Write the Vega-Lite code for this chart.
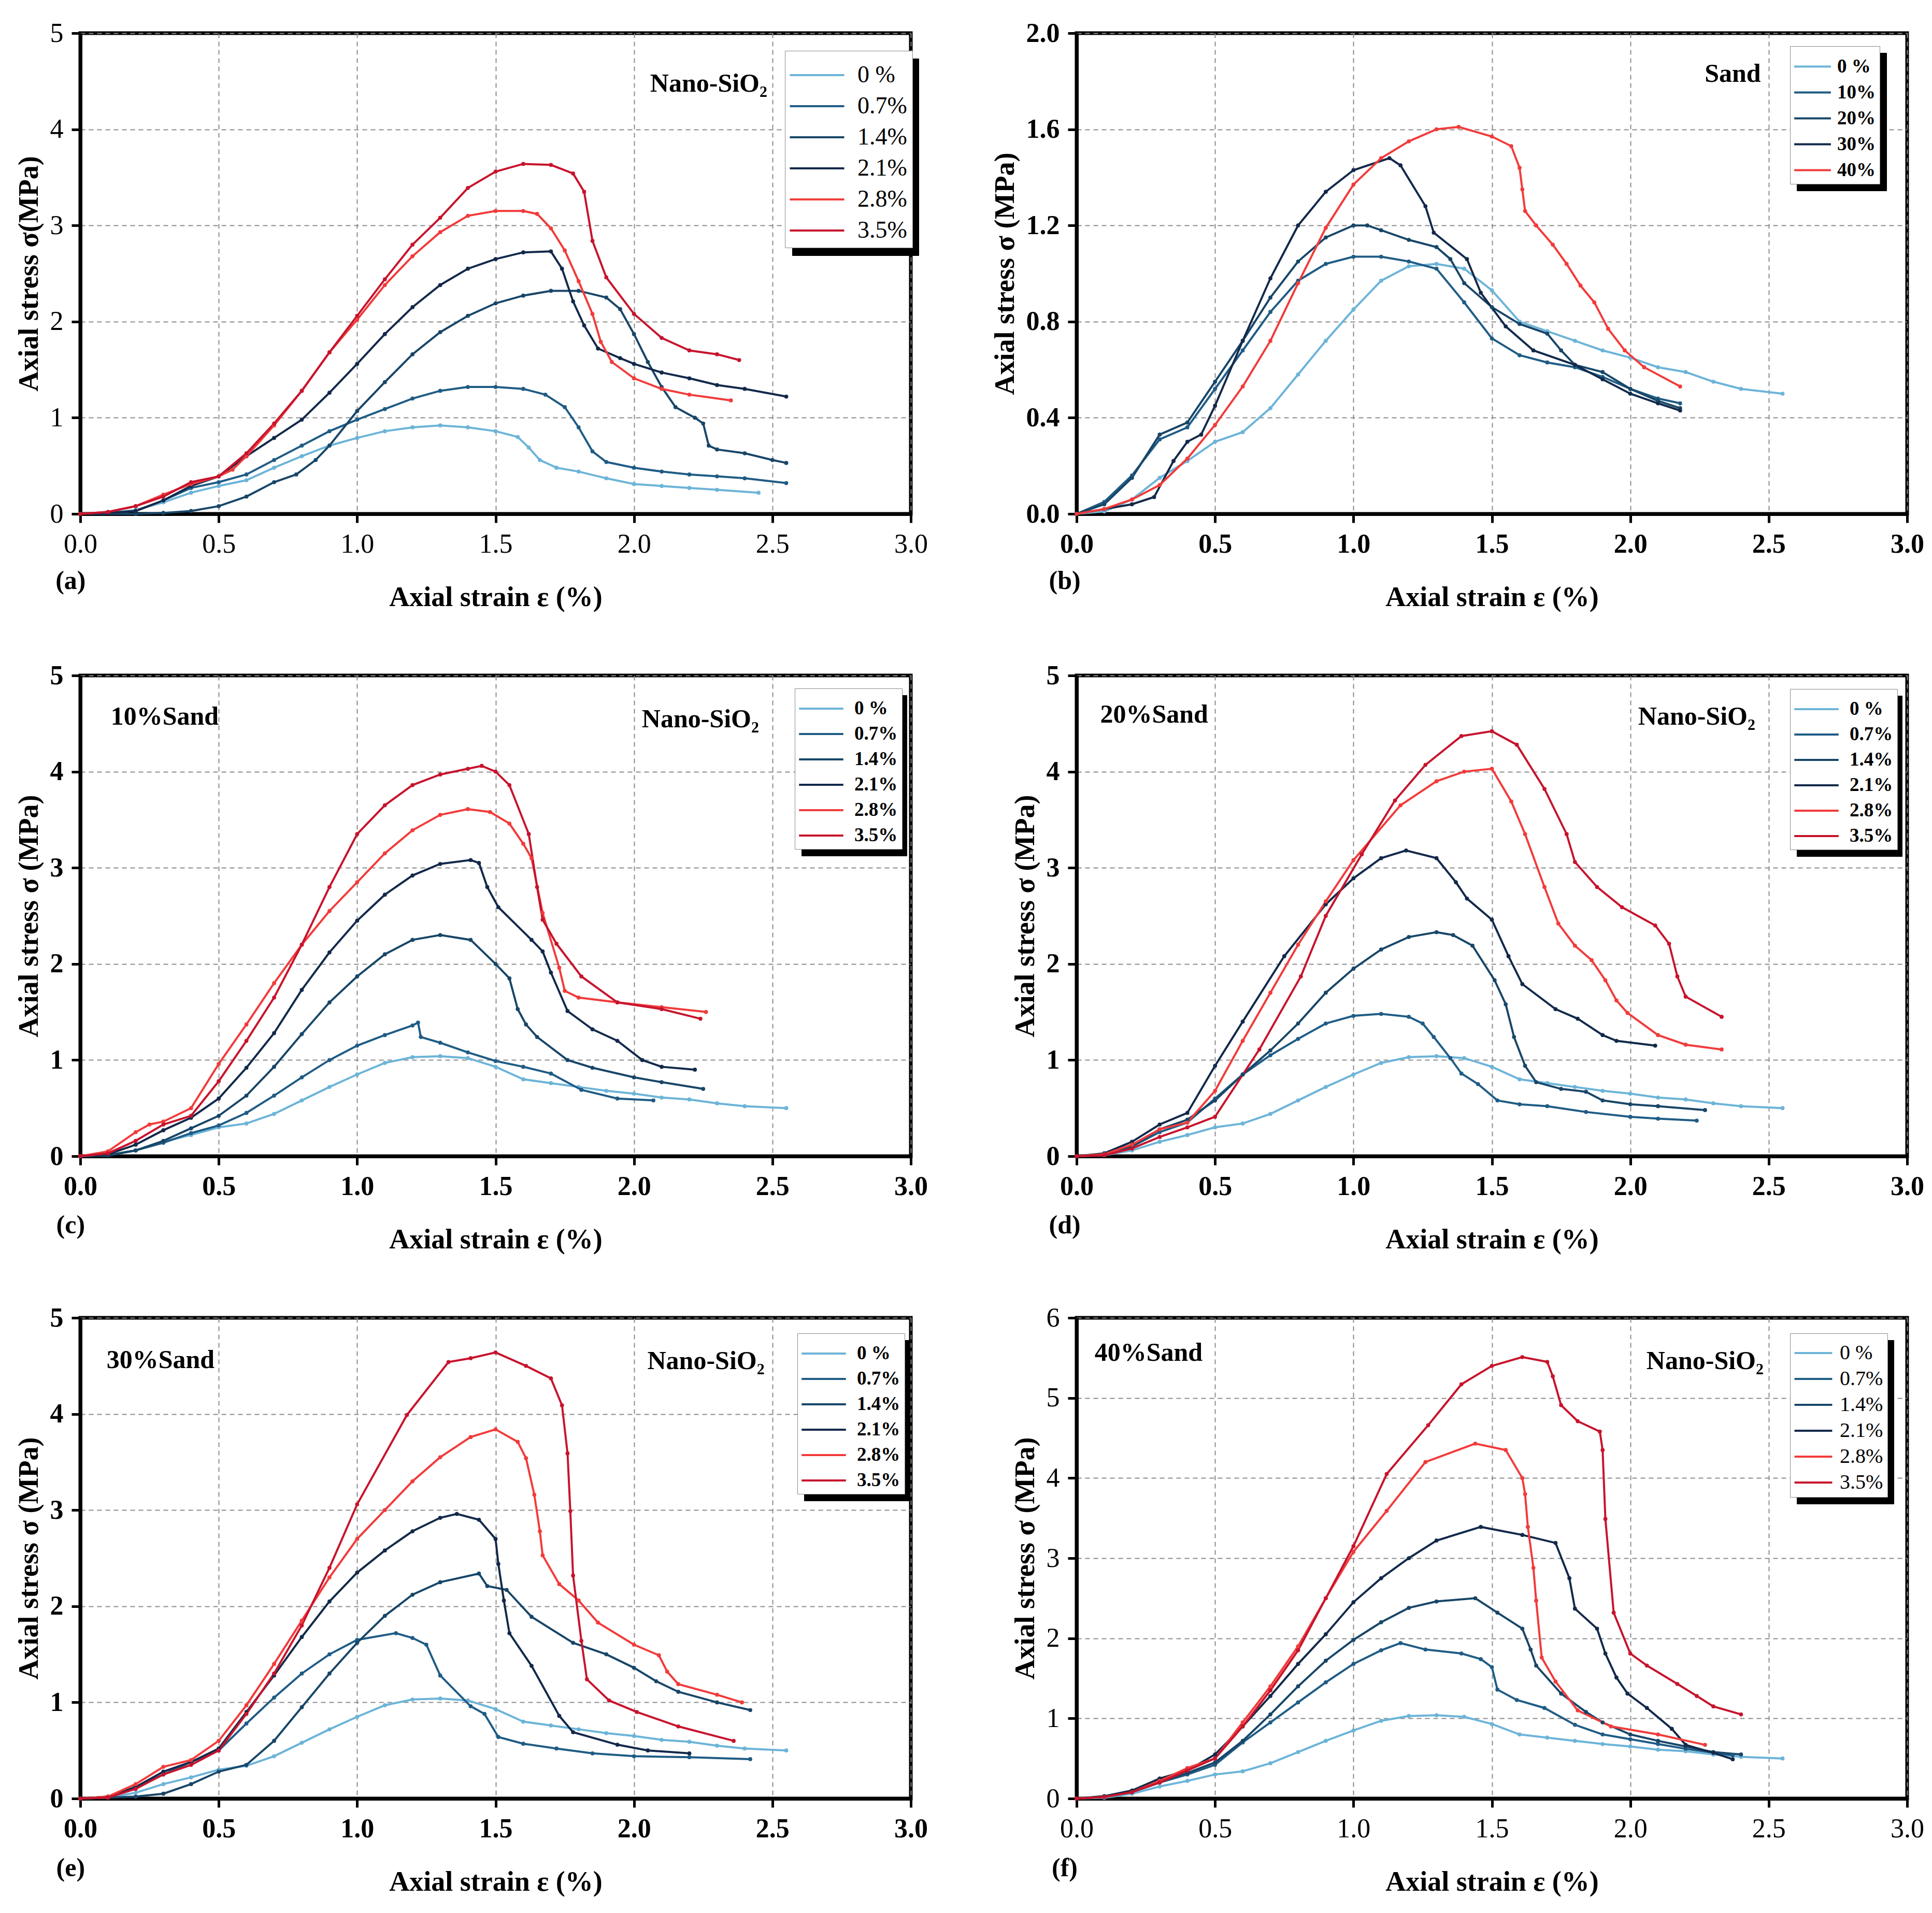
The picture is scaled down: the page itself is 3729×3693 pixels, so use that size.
{
  "$schema": "https://vega.github.io/schema/vega-lite/v6.json",
  "background": "white",
  "padding": {"left": 25, "top": 34, "right": 0, "bottom": 0},
  "config": {
    "font": "Liberation Serif",
    "view": {"stroke": "black", "strokeWidth": 7},
    "axis": {
      "domainColor": "black", "domainWidth": 7,
      "tickColor": "black", "tickWidth": 5, "tickSize": 17,
      "grid": true, "gridColor": "#8c8c8c", "gridDash": [9, 7], "gridWidth": 2,
      "labelFont": "Liberation Serif", "labelFontSize": 52, "labelColor": "black",
      "labelPadding": 16, "labelFlush": false, "labelOverlap": false,
      "titleFont": "Liberation Serif", "titleFontSize": 54, "titleFontWeight": "bold", "titleColor": "black"
    },
    "axisX": {"titlePadding": 50},
    "axisY": {"titlePadding": 13},
    "legend": {"labelFont": "Liberation Serif", "labelColor": "black", "symbolStrokeWidth": 4, "rowPadding": 0}
  },
  "datasets": {
    "ctrl": [
      {"s":"0 %","x":0,"y":0},{"s":"0 %","x":0.1,"y":0.01},{"s":"0 %","x":0.2,"y":0.06},{"s":"0 %","x":0.3,"y":0.15},{"s":"0 %","x":0.4,"y":0.22},{"s":"0 %","x":0.5,"y":0.3},{"s":"0 %","x":0.6,"y":0.34},{"s":"0 %","x":0.7,"y":0.44},{"s":"0 %","x":0.8,"y":0.58},{"s":"0 %","x":0.9,"y":0.72},{"s":"0 %","x":1.0,"y":0.85},{"s":"0 %","x":1.1,"y":0.97},{"s":"0 %","x":1.2,"y":1.03},{"s":"0 %","x":1.3,"y":1.04},{"s":"0 %","x":1.4,"y":1.02},{"s":"0 %","x":1.5,"y":0.93},{"s":"0 %","x":1.6,"y":0.8},{"s":"0 %","x":1.7,"y":0.76},{"s":"0 %","x":1.8,"y":0.72},{"s":"0 %","x":1.9,"y":0.68},{"s":"0 %","x":2.0,"y":0.65},{"s":"0 %","x":2.1,"y":0.61},{"s":"0 %","x":2.2,"y":0.59},{"s":"0 %","x":2.3,"y":0.55},{"s":"0 %","x":2.4,"y":0.52},{"s":"0 %","x":2.55,"y":0.5}
    ],
    "A": [
      {"s":"0 %","x":0,"y":0},{"s":"0 %","x":0.1,"y":0.01},{"s":"0 %","x":0.2,"y":0.04},{"s":"0 %","x":0.3,"y":0.12},{"s":"0 %","x":0.4,"y":0.22},{"s":"0 %","x":0.5,"y":0.29},{"s":"0 %","x":0.6,"y":0.35},{"s":"0 %","x":0.7,"y":0.48},{"s":"0 %","x":0.8,"y":0.6},{"s":"0 %","x":0.9,"y":0.71},{"s":"0 %","x":1.0,"y":0.79},{"s":"0 %","x":1.1,"y":0.86},{"s":"0 %","x":1.2,"y":0.9},{"s":"0 %","x":1.3,"y":0.92},{"s":"0 %","x":1.4,"y":0.9},{"s":"0 %","x":1.5,"y":0.86},{"s":"0 %","x":1.58,"y":0.8},{"s":"0 %","x":1.62,"y":0.69},{"s":"0 %","x":1.66,"y":0.56},{"s":"0 %","x":1.72,"y":0.48},{"s":"0 %","x":1.8,"y":0.44},{"s":"0 %","x":1.9,"y":0.37},{"s":"0 %","x":2.0,"y":0.31},{"s":"0 %","x":2.1,"y":0.29},{"s":"0 %","x":2.2,"y":0.27},{"s":"0 %","x":2.3,"y":0.25},{"s":"0 %","x":2.45,"y":0.22},
      {"s":"0.7%","x":0,"y":0},{"s":"0.7%","x":0.1,"y":0.01},{"s":"0.7%","x":0.2,"y":0.03},{"s":"0.7%","x":0.3,"y":0.14},{"s":"0.7%","x":0.4,"y":0.27},{"s":"0.7%","x":0.5,"y":0.33},{"s":"0.7%","x":0.6,"y":0.41},{"s":"0.7%","x":0.7,"y":0.56},{"s":"0.7%","x":0.8,"y":0.71},{"s":"0.7%","x":0.9,"y":0.86},{"s":"0.7%","x":1.0,"y":0.98},{"s":"0.7%","x":1.1,"y":1.09},{"s":"0.7%","x":1.2,"y":1.2},{"s":"0.7%","x":1.3,"y":1.28},{"s":"0.7%","x":1.4,"y":1.32},{"s":"0.7%","x":1.5,"y":1.32},{"s":"0.7%","x":1.6,"y":1.3},{"s":"0.7%","x":1.68,"y":1.24},{"s":"0.7%","x":1.75,"y":1.11},{"s":"0.7%","x":1.8,"y":0.9},{"s":"0.7%","x":1.85,"y":0.65},{"s":"0.7%","x":1.9,"y":0.54},{"s":"0.7%","x":2.0,"y":0.48},{"s":"0.7%","x":2.1,"y":0.44},{"s":"0.7%","x":2.2,"y":0.41},{"s":"0.7%","x":2.3,"y":0.39},{"s":"0.7%","x":2.4,"y":0.37},{"s":"0.7%","x":2.55,"y":0.32},
      {"s":"1.4%","x":0,"y":0},{"s":"1.4%","x":0.2,"y":0.0},{"s":"1.4%","x":0.3,"y":0.01},{"s":"1.4%","x":0.4,"y":0.03},{"s":"1.4%","x":0.5,"y":0.08},{"s":"1.4%","x":0.6,"y":0.18},{"s":"1.4%","x":0.7,"y":0.33},{"s":"1.4%","x":0.78,"y":0.41},{"s":"1.4%","x":0.85,"y":0.56},{"s":"1.4%","x":0.9,"y":0.71},{"s":"1.4%","x":1.0,"y":1.07},{"s":"1.4%","x":1.1,"y":1.37},{"s":"1.4%","x":1.2,"y":1.66},{"s":"1.4%","x":1.3,"y":1.89},{"s":"1.4%","x":1.4,"y":2.06},{"s":"1.4%","x":1.5,"y":2.19},{"s":"1.4%","x":1.6,"y":2.27},{"s":"1.4%","x":1.7,"y":2.32},{"s":"1.4%","x":1.8,"y":2.32},{"s":"1.4%","x":1.9,"y":2.25},{"s":"1.4%","x":1.95,"y":2.13},{"s":"1.4%","x":2.0,"y":1.87},{"s":"1.4%","x":2.05,"y":1.58},{"s":"1.4%","x":2.1,"y":1.32},{"s":"1.4%","x":2.15,"y":1.11},{"s":"1.4%","x":2.22,"y":1.0},{"s":"1.4%","x":2.25,"y":0.94},{"s":"1.4%","x":2.27,"y":0.71},{"s":"1.4%","x":2.3,"y":0.67},{"s":"1.4%","x":2.4,"y":0.63},{"s":"1.4%","x":2.5,"y":0.56},{"s":"1.4%","x":2.55,"y":0.53},
      {"s":"2.1%","x":0,"y":0},{"s":"2.1%","x":0.1,"y":0.01},{"s":"2.1%","x":0.2,"y":0.03},{"s":"2.1%","x":0.3,"y":0.14},{"s":"2.1%","x":0.4,"y":0.29},{"s":"2.1%","x":0.5,"y":0.39},{"s":"2.1%","x":0.6,"y":0.6},{"s":"2.1%","x":0.7,"y":0.79},{"s":"2.1%","x":0.8,"y":0.98},{"s":"2.1%","x":0.9,"y":1.26},{"s":"2.1%","x":1.0,"y":1.56},{"s":"2.1%","x":1.1,"y":1.87},{"s":"2.1%","x":1.2,"y":2.15},{"s":"2.1%","x":1.3,"y":2.38},{"s":"2.1%","x":1.4,"y":2.55},{"s":"2.1%","x":1.5,"y":2.65},{"s":"2.1%","x":1.6,"y":2.72},{"s":"2.1%","x":1.7,"y":2.73},{"s":"2.1%","x":1.74,"y":2.55},{"s":"2.1%","x":1.78,"y":2.21},{"s":"2.1%","x":1.82,"y":1.96},{"s":"2.1%","x":1.87,"y":1.72},{"s":"2.1%","x":1.95,"y":1.62},{"s":"2.1%","x":2.0,"y":1.56},{"s":"2.1%","x":2.1,"y":1.47},{"s":"2.1%","x":2.2,"y":1.41},{"s":"2.1%","x":2.3,"y":1.34},{"s":"2.1%","x":2.4,"y":1.3},{"s":"2.1%","x":2.55,"y":1.22},
      {"s":"2.8%","x":0,"y":0},{"s":"2.8%","x":0.1,"y":0.02},{"s":"2.8%","x":0.2,"y":0.08},{"s":"2.8%","x":0.3,"y":0.2},{"s":"2.8%","x":0.4,"y":0.31},{"s":"2.8%","x":0.5,"y":0.39},{"s":"2.8%","x":0.55,"y":0.46},{"s":"2.8%","x":0.6,"y":0.6},{"s":"2.8%","x":0.7,"y":0.92},{"s":"2.8%","x":0.8,"y":1.28},{"s":"2.8%","x":0.9,"y":1.68},{"s":"2.8%","x":1.0,"y":2.02},{"s":"2.8%","x":1.1,"y":2.38},{"s":"2.8%","x":1.2,"y":2.68},{"s":"2.8%","x":1.3,"y":2.93},{"s":"2.8%","x":1.4,"y":3.1},{"s":"2.8%","x":1.5,"y":3.15},{"s":"2.8%","x":1.6,"y":3.15},{"s":"2.8%","x":1.65,"y":3.12},{"s":"2.8%","x":1.7,"y":2.97},{"s":"2.8%","x":1.75,"y":2.74},{"s":"2.8%","x":1.8,"y":2.42},{"s":"2.8%","x":1.85,"y":2.08},{"s":"2.8%","x":1.88,"y":1.79},{"s":"2.8%","x":1.92,"y":1.58},{"s":"2.8%","x":2.0,"y":1.41},{"s":"2.8%","x":2.1,"y":1.3},{"s":"2.8%","x":2.2,"y":1.24},{"s":"2.8%","x":2.35,"y":1.18},
      {"s":"3.5%","x":0,"y":0},{"s":"3.5%","x":0.1,"y":0.02},{"s":"3.5%","x":0.2,"y":0.08},{"s":"3.5%","x":0.3,"y":0.18},{"s":"3.5%","x":0.4,"y":0.33},{"s":"3.5%","x":0.5,"y":0.39},{"s":"3.5%","x":0.6,"y":0.63},{"s":"3.5%","x":0.7,"y":0.94},{"s":"3.5%","x":0.8,"y":1.28},{"s":"3.5%","x":0.9,"y":1.68},{"s":"3.5%","x":1.0,"y":2.06},{"s":"3.5%","x":1.1,"y":2.44},{"s":"3.5%","x":1.2,"y":2.8},{"s":"3.5%","x":1.3,"y":3.08},{"s":"3.5%","x":1.4,"y":3.39},{"s":"3.5%","x":1.5,"y":3.56},{"s":"3.5%","x":1.6,"y":3.64},{"s":"3.5%","x":1.7,"y":3.63},{"s":"3.5%","x":1.78,"y":3.54},{"s":"3.5%","x":1.82,"y":3.35},{"s":"3.5%","x":1.85,"y":2.84},{"s":"3.5%","x":1.9,"y":2.46},{"s":"3.5%","x":2.0,"y":2.08},{"s":"3.5%","x":2.1,"y":1.83},{"s":"3.5%","x":2.2,"y":1.7},{"s":"3.5%","x":2.3,"y":1.66},{"s":"3.5%","x":2.38,"y":1.6}
    ],
    "B": [
      {"s":"10%","x":0,"y":0},{"s":"10%","x":0.1,"y":0.05},{"s":"10%","x":0.2,"y":0.16},{"s":"10%","x":0.3,"y":0.31},{"s":"10%","x":0.4,"y":0.36},{"s":"10%","x":0.5,"y":0.52},{"s":"10%","x":0.6,"y":0.68},{"s":"10%","x":0.7,"y":0.84},{"s":"10%","x":0.8,"y":0.97},{"s":"10%","x":0.9,"y":1.04},{"s":"10%","x":1.0,"y":1.07},{"s":"10%","x":1.1,"y":1.07},{"s":"10%","x":1.2,"y":1.05},{"s":"10%","x":1.3,"y":1.02},{"s":"10%","x":1.4,"y":0.88},{"s":"10%","x":1.5,"y":0.73},{"s":"10%","x":1.6,"y":0.66},{"s":"10%","x":1.7,"y":0.63},{"s":"10%","x":1.8,"y":0.61},{"s":"10%","x":1.9,"y":0.57},{"s":"10%","x":2.0,"y":0.52},{"s":"10%","x":2.1,"y":0.48},{"s":"10%","x":2.18,"y":0.46},
      {"s":"20%","x":0,"y":0},{"s":"20%","x":0.1,"y":0.04},{"s":"20%","x":0.2,"y":0.15},{"s":"20%","x":0.3,"y":0.33},{"s":"20%","x":0.4,"y":0.38},{"s":"20%","x":0.5,"y":0.55},{"s":"20%","x":0.6,"y":0.72},{"s":"20%","x":0.7,"y":0.9},{"s":"20%","x":0.8,"y":1.05},{"s":"20%","x":0.9,"y":1.15},{"s":"20%","x":1.0,"y":1.2},{"s":"20%","x":1.05,"y":1.2},{"s":"20%","x":1.1,"y":1.18},{"s":"20%","x":1.2,"y":1.14},{"s":"20%","x":1.3,"y":1.11},{"s":"20%","x":1.35,"y":1.06},{"s":"20%","x":1.4,"y":0.96},{"s":"20%","x":1.5,"y":0.86},{"s":"20%","x":1.6,"y":0.79},{"s":"20%","x":1.7,"y":0.75},{"s":"20%","x":1.75,"y":0.68},{"s":"20%","x":1.8,"y":0.62},{"s":"20%","x":1.9,"y":0.59},{"s":"20%","x":2.0,"y":0.52},{"s":"20%","x":2.1,"y":0.47},{"s":"20%","x":2.18,"y":0.44},
      {"s":"30%","x":0,"y":0},{"s":"30%","x":0.1,"y":0.02},{"s":"30%","x":0.2,"y":0.04},{"s":"30%","x":0.28,"y":0.07},{"s":"30%","x":0.35,"y":0.22},{"s":"30%","x":0.4,"y":0.3},{"s":"30%","x":0.45,"y":0.33},{"s":"30%","x":0.5,"y":0.45},{"s":"30%","x":0.6,"y":0.72},{"s":"30%","x":0.7,"y":0.98},{"s":"30%","x":0.8,"y":1.2},{"s":"30%","x":0.9,"y":1.34},{"s":"30%","x":1.0,"y":1.43},{"s":"30%","x":1.13,"y":1.48},{"s":"30%","x":1.17,"y":1.45},{"s":"30%","x":1.26,"y":1.28},{"s":"30%","x":1.29,"y":1.17},{"s":"30%","x":1.41,"y":1.06},{"s":"30%","x":1.46,"y":0.92},{"s":"30%","x":1.55,"y":0.78},{"s":"30%","x":1.65,"y":0.68},{"s":"30%","x":1.8,"y":0.62},{"s":"30%","x":1.9,"y":0.56},{"s":"30%","x":2.0,"y":0.5},{"s":"30%","x":2.1,"y":0.46},{"s":"30%","x":2.18,"y":0.43},
      {"s":"40%","x":0,"y":0},{"s":"40%","x":0.1,"y":0.02},{"s":"40%","x":0.2,"y":0.06},{"s":"40%","x":0.3,"y":0.12},{"s":"40%","x":0.4,"y":0.23},{"s":"40%","x":0.5,"y":0.37},{"s":"40%","x":0.6,"y":0.53},{"s":"40%","x":0.7,"y":0.72},{"s":"40%","x":0.8,"y":0.96},{"s":"40%","x":0.9,"y":1.19},{"s":"40%","x":1.0,"y":1.37},{"s":"40%","x":1.1,"y":1.48},{"s":"40%","x":1.2,"y":1.55},{"s":"40%","x":1.3,"y":1.6},{"s":"40%","x":1.38,"y":1.61},{"s":"40%","x":1.5,"y":1.57},{"s":"40%","x":1.57,"y":1.53},{"s":"40%","x":1.6,"y":1.44},{"s":"40%","x":1.61,"y":1.35},{"s":"40%","x":1.62,"y":1.26},{"s":"40%","x":1.66,"y":1.2},{"s":"40%","x":1.72,"y":1.12},{"s":"40%","x":1.77,"y":1.04},{"s":"40%","x":1.82,"y":0.95},{"s":"40%","x":1.87,"y":0.88},{"s":"40%","x":1.92,"y":0.77},{"s":"40%","x":1.98,"y":0.68},{"s":"40%","x":2.05,"y":0.61},{"s":"40%","x":2.18,"y":0.53}
    ],
    "C": [
      {"s":"0.7%","x":0,"y":0},{"s":"0.7%","x":0.1,"y":0.01},{"s":"0.7%","x":0.2,"y":0.06},{"s":"0.7%","x":0.3,"y":0.14},{"s":"0.7%","x":0.4,"y":0.24},{"s":"0.7%","x":0.5,"y":0.32},{"s":"0.7%","x":0.6,"y":0.45},{"s":"0.7%","x":0.7,"y":0.63},{"s":"0.7%","x":0.8,"y":0.82},{"s":"0.7%","x":0.9,"y":1.0},{"s":"0.7%","x":1.0,"y":1.15},{"s":"0.7%","x":1.1,"y":1.26},{"s":"0.7%","x":1.2,"y":1.36},{"s":"0.7%","x":1.22,"y":1.39},{"s":"0.7%","x":1.23,"y":1.24},{"s":"0.7%","x":1.3,"y":1.18},{"s":"0.7%","x":1.4,"y":1.08},{"s":"0.7%","x":1.5,"y":0.99},{"s":"0.7%","x":1.6,"y":0.93},{"s":"0.7%","x":1.7,"y":0.86},{"s":"0.7%","x":1.81,"y":0.69},{"s":"0.7%","x":1.94,"y":0.6},{"s":"0.7%","x":2.07,"y":0.58},
      {"s":"1.4%","x":0,"y":0},{"s":"1.4%","x":0.1,"y":0.01},{"s":"1.4%","x":0.2,"y":0.06},{"s":"1.4%","x":0.3,"y":0.16},{"s":"1.4%","x":0.4,"y":0.29},{"s":"1.4%","x":0.5,"y":0.42},{"s":"1.4%","x":0.6,"y":0.63},{"s":"1.4%","x":0.7,"y":0.93},{"s":"1.4%","x":0.8,"y":1.27},{"s":"1.4%","x":0.9,"y":1.6},{"s":"1.4%","x":1.0,"y":1.87},{"s":"1.4%","x":1.1,"y":2.1},{"s":"1.4%","x":1.2,"y":2.25},{"s":"1.4%","x":1.3,"y":2.3},{"s":"1.4%","x":1.41,"y":2.25},{"s":"1.4%","x":1.5,"y":2.0},{"s":"1.4%","x":1.55,"y":1.85},{"s":"1.4%","x":1.58,"y":1.53},{"s":"1.4%","x":1.61,"y":1.37},{"s":"1.4%","x":1.65,"y":1.24},{"s":"1.4%","x":1.76,"y":1.0},{"s":"1.4%","x":1.85,"y":0.92},{"s":"1.4%","x":2.0,"y":0.82},{"s":"1.4%","x":2.1,"y":0.77},{"s":"1.4%","x":2.25,"y":0.7},
      {"s":"2.1%","x":0,"y":0},{"s":"2.1%","x":0.1,"y":0.02},{"s":"2.1%","x":0.2,"y":0.12},{"s":"2.1%","x":0.3,"y":0.27},{"s":"2.1%","x":0.4,"y":0.4},{"s":"2.1%","x":0.5,"y":0.6},{"s":"2.1%","x":0.6,"y":0.92},{"s":"2.1%","x":0.7,"y":1.28},{"s":"2.1%","x":0.8,"y":1.73},{"s":"2.1%","x":0.9,"y":2.12},{"s":"2.1%","x":1.0,"y":2.45},{"s":"2.1%","x":1.1,"y":2.72},{"s":"2.1%","x":1.2,"y":2.92},{"s":"2.1%","x":1.3,"y":3.04},{"s":"2.1%","x":1.41,"y":3.08},{"s":"2.1%","x":1.44,"y":3.05},{"s":"2.1%","x":1.47,"y":2.8},{"s":"2.1%","x":1.51,"y":2.59},{"s":"2.1%","x":1.63,"y":2.25},{"s":"2.1%","x":1.67,"y":2.13},{"s":"2.1%","x":1.7,"y":1.91},{"s":"2.1%","x":1.76,"y":1.51},{"s":"2.1%","x":1.85,"y":1.32},{"s":"2.1%","x":1.94,"y":1.2},{"s":"2.1%","x":2.03,"y":1.0},{"s":"2.1%","x":2.1,"y":0.93},{"s":"2.1%","x":2.22,"y":0.9},
      {"s":"2.8%","x":0,"y":0},{"s":"2.8%","x":0.1,"y":0.05},{"s":"2.8%","x":0.2,"y":0.25},{"s":"2.8%","x":0.25,"y":0.33},{"s":"2.8%","x":0.3,"y":0.36},{"s":"2.8%","x":0.4,"y":0.5},{"s":"2.8%","x":0.5,"y":0.96},{"s":"2.8%","x":0.6,"y":1.37},{"s":"2.8%","x":0.7,"y":1.8},{"s":"2.8%","x":0.8,"y":2.2},{"s":"2.8%","x":0.9,"y":2.55},{"s":"2.8%","x":1.0,"y":2.85},{"s":"2.8%","x":1.1,"y":3.15},{"s":"2.8%","x":1.2,"y":3.39},{"s":"2.8%","x":1.3,"y":3.55},{"s":"2.8%","x":1.4,"y":3.61},{"s":"2.8%","x":1.48,"y":3.58},{"s":"2.8%","x":1.55,"y":3.46},{"s":"2.8%","x":1.6,"y":3.25},{"s":"2.8%","x":1.63,"y":3.1},{"s":"2.8%","x":1.67,"y":2.53},{"s":"2.8%","x":1.73,"y":1.96},{"s":"2.8%","x":1.75,"y":1.72},{"s":"2.8%","x":1.8,"y":1.65},{"s":"2.8%","x":1.94,"y":1.6},{"s":"2.8%","x":2.1,"y":1.55},{"s":"2.8%","x":2.26,"y":1.5},
      {"s":"3.5%","x":0,"y":0},{"s":"3.5%","x":0.1,"y":0.03},{"s":"3.5%","x":0.2,"y":0.16},{"s":"3.5%","x":0.3,"y":0.33},{"s":"3.5%","x":0.4,"y":0.42},{"s":"3.5%","x":0.5,"y":0.78},{"s":"3.5%","x":0.6,"y":1.2},{"s":"3.5%","x":0.7,"y":1.65},{"s":"3.5%","x":0.8,"y":2.2},{"s":"3.5%","x":0.9,"y":2.8},{"s":"3.5%","x":1.0,"y":3.35},{"s":"3.5%","x":1.1,"y":3.65},{"s":"3.5%","x":1.2,"y":3.86},{"s":"3.5%","x":1.3,"y":3.97},{"s":"3.5%","x":1.4,"y":4.03},{"s":"3.5%","x":1.45,"y":4.06},{"s":"3.5%","x":1.5,"y":4.0},{"s":"3.5%","x":1.55,"y":3.86},{"s":"3.5%","x":1.62,"y":3.35},{"s":"3.5%","x":1.65,"y":2.8},{"s":"3.5%","x":1.67,"y":2.46},{"s":"3.5%","x":1.72,"y":2.21},{"s":"3.5%","x":1.81,"y":1.87},{"s":"3.5%","x":1.94,"y":1.6},{"s":"3.5%","x":2.1,"y":1.53},{"s":"3.5%","x":2.24,"y":1.43}
    ],
    "D": [
      {"s":"0.7%","x":0,"y":0},{"s":"0.7%","x":0.1,"y":0.02},{"s":"0.7%","x":0.2,"y":0.1},{"s":"0.7%","x":0.3,"y":0.25},{"s":"0.7%","x":0.4,"y":0.35},{"s":"0.7%","x":0.5,"y":0.6},{"s":"0.7%","x":0.6,"y":0.85},{"s":"0.7%","x":0.7,"y":1.05},{"s":"0.7%","x":0.8,"y":1.22},{"s":"0.7%","x":0.9,"y":1.38},{"s":"0.7%","x":1.0,"y":1.46},{"s":"0.7%","x":1.1,"y":1.48},{"s":"0.7%","x":1.2,"y":1.45},{"s":"0.7%","x":1.25,"y":1.38},{"s":"0.7%","x":1.29,"y":1.24},{"s":"0.7%","x":1.35,"y":1.02},{"s":"0.7%","x":1.39,"y":0.86},{"s":"0.7%","x":1.45,"y":0.75},{"s":"0.7%","x":1.52,"y":0.58},{"s":"0.7%","x":1.6,"y":0.54},{"s":"0.7%","x":1.7,"y":0.52},{"s":"0.7%","x":1.84,"y":0.46},{"s":"0.7%","x":2.0,"y":0.41},{"s":"0.7%","x":2.1,"y":0.39},{"s":"0.7%","x":2.24,"y":0.37},
      {"s":"1.4%","x":0,"y":0},{"s":"1.4%","x":0.1,"y":0.02},{"s":"1.4%","x":0.2,"y":0.1},{"s":"1.4%","x":0.3,"y":0.28},{"s":"1.4%","x":0.4,"y":0.38},{"s":"1.4%","x":0.5,"y":0.58},{"s":"1.4%","x":0.6,"y":0.85},{"s":"1.4%","x":0.7,"y":1.1},{"s":"1.4%","x":0.8,"y":1.38},{"s":"1.4%","x":0.9,"y":1.7},{"s":"1.4%","x":1.0,"y":1.95},{"s":"1.4%","x":1.1,"y":2.15},{"s":"1.4%","x":1.2,"y":2.28},{"s":"1.4%","x":1.3,"y":2.33},{"s":"1.4%","x":1.36,"y":2.3},{"s":"1.4%","x":1.43,"y":2.19},{"s":"1.4%","x":1.51,"y":1.83},{"s":"1.4%","x":1.55,"y":1.58},{"s":"1.4%","x":1.58,"y":1.24},{"s":"1.4%","x":1.62,"y":0.94},{"s":"1.4%","x":1.66,"y":0.77},{"s":"1.4%","x":1.75,"y":0.7},{"s":"1.4%","x":1.84,"y":0.67},{"s":"1.4%","x":1.9,"y":0.58},{"s":"1.4%","x":2.0,"y":0.54},{"s":"1.4%","x":2.1,"y":0.52},{"s":"1.4%","x":2.27,"y":0.48},
      {"s":"2.1%","x":0,"y":0},{"s":"2.1%","x":0.1,"y":0.03},{"s":"2.1%","x":0.2,"y":0.15},{"s":"2.1%","x":0.3,"y":0.33},{"s":"2.1%","x":0.4,"y":0.45},{"s":"2.1%","x":0.5,"y":0.94},{"s":"2.1%","x":0.6,"y":1.4},{"s":"2.1%","x":0.75,"y":2.08},{"s":"2.1%","x":0.9,"y":2.62},{"s":"2.1%","x":1.0,"y":2.89},{"s":"2.1%","x":1.1,"y":3.1},{"s":"2.1%","x":1.19,"y":3.18},{"s":"2.1%","x":1.3,"y":3.1},{"s":"2.1%","x":1.37,"y":2.85},{"s":"2.1%","x":1.41,"y":2.68},{"s":"2.1%","x":1.5,"y":2.46},{"s":"2.1%","x":1.56,"y":2.08},{"s":"2.1%","x":1.61,"y":1.79},{"s":"2.1%","x":1.73,"y":1.53},{"s":"2.1%","x":1.81,"y":1.43},{"s":"2.1%","x":1.9,"y":1.26},{"s":"2.1%","x":1.95,"y":1.2},{"s":"2.1%","x":2.09,"y":1.15},
      {"s":"2.8%","x":0,"y":0},{"s":"2.8%","x":0.1,"y":0.02},{"s":"2.8%","x":0.2,"y":0.12},{"s":"2.8%","x":0.3,"y":0.28},{"s":"2.8%","x":0.4,"y":0.35},{"s":"2.8%","x":0.5,"y":0.68},{"s":"2.8%","x":0.6,"y":1.2},{"s":"2.8%","x":0.7,"y":1.7},{"s":"2.8%","x":0.8,"y":2.2},{"s":"2.8%","x":0.9,"y":2.65},{"s":"2.8%","x":1.0,"y":3.08},{"s":"2.8%","x":1.17,"y":3.65},{"s":"2.8%","x":1.3,"y":3.9},{"s":"2.8%","x":1.4,"y":4.0},{"s":"2.8%","x":1.5,"y":4.03},{"s":"2.8%","x":1.57,"y":3.69},{"s":"2.8%","x":1.62,"y":3.35},{"s":"2.8%","x":1.69,"y":2.8},{"s":"2.8%","x":1.74,"y":2.42},{"s":"2.8%","x":1.8,"y":2.19},{"s":"2.8%","x":1.86,"y":2.04},{"s":"2.8%","x":1.91,"y":1.83},{"s":"2.8%","x":1.95,"y":1.62},{"s":"2.8%","x":1.99,"y":1.49},{"s":"2.8%","x":2.1,"y":1.26},{"s":"2.8%","x":2.2,"y":1.16},{"s":"2.8%","x":2.33,"y":1.11},
      {"s":"3.5%","x":0,"y":0},{"s":"3.5%","x":0.1,"y":0.01},{"s":"3.5%","x":0.2,"y":0.08},{"s":"3.5%","x":0.3,"y":0.2},{"s":"3.5%","x":0.4,"y":0.3},{"s":"3.5%","x":0.5,"y":0.41},{"s":"3.5%","x":0.66,"y":1.11},{"s":"3.5%","x":0.81,"y":1.87},{"s":"3.5%","x":0.9,"y":2.5},{"s":"3.5%","x":1.03,"y":3.14},{"s":"3.5%","x":1.15,"y":3.7},{"s":"3.5%","x":1.26,"y":4.07},{"s":"3.5%","x":1.39,"y":4.37},{"s":"3.5%","x":1.5,"y":4.42},{"s":"3.5%","x":1.59,"y":4.28},{"s":"3.5%","x":1.69,"y":3.82},{"s":"3.5%","x":1.77,"y":3.35},{"s":"3.5%","x":1.8,"y":3.06},{"s":"3.5%","x":1.88,"y":2.8},{"s":"3.5%","x":1.97,"y":2.59},{"s":"3.5%","x":2.09,"y":2.4},{"s":"3.5%","x":2.14,"y":2.21},{"s":"3.5%","x":2.17,"y":1.87},{"s":"3.5%","x":2.2,"y":1.66},{"s":"3.5%","x":2.33,"y":1.45}
    ],
    "E": [
      {"s":"0.7%","x":0,"y":0},{"s":"0.7%","x":0.1,"y":0.02},{"s":"0.7%","x":0.2,"y":0.12},{"s":"0.7%","x":0.3,"y":0.25},{"s":"0.7%","x":0.4,"y":0.38},{"s":"0.7%","x":0.5,"y":0.5},{"s":"0.7%","x":0.6,"y":0.78},{"s":"0.7%","x":0.7,"y":1.05},{"s":"0.7%","x":0.8,"y":1.3},{"s":"0.7%","x":0.9,"y":1.5},{"s":"0.7%","x":1.0,"y":1.65},{"s":"0.7%","x":1.14,"y":1.72},{"s":"0.7%","x":1.2,"y":1.67},{"s":"0.7%","x":1.25,"y":1.6},{"s":"0.7%","x":1.3,"y":1.28},{"s":"0.7%","x":1.41,"y":0.96},{"s":"0.7%","x":1.46,"y":0.88},{"s":"0.7%","x":1.51,"y":0.64},{"s":"0.7%","x":1.6,"y":0.57},{"s":"0.7%","x":1.72,"y":0.52},{"s":"0.7%","x":1.85,"y":0.47},{"s":"0.7%","x":2.0,"y":0.44},{"s":"0.7%","x":2.2,"y":0.43},{"s":"0.7%","x":2.42,"y":0.41},
      {"s":"1.4%","x":0,"y":0},{"s":"1.4%","x":0.2,"y":0.02},{"s":"1.4%","x":0.3,"y":0.05},{"s":"1.4%","x":0.4,"y":0.15},{"s":"1.4%","x":0.5,"y":0.28},{"s":"1.4%","x":0.6,"y":0.35},{"s":"1.4%","x":0.7,"y":0.6},{"s":"1.4%","x":0.8,"y":0.95},{"s":"1.4%","x":0.9,"y":1.3},{"s":"1.4%","x":1.0,"y":1.62},{"s":"1.4%","x":1.1,"y":1.9},{"s":"1.4%","x":1.2,"y":2.12},{"s":"1.4%","x":1.3,"y":2.25},{"s":"1.4%","x":1.44,"y":2.34},{"s":"1.4%","x":1.47,"y":2.21},{"s":"1.4%","x":1.54,"y":2.17},{"s":"1.4%","x":1.63,"y":1.89},{"s":"1.4%","x":1.78,"y":1.62},{"s":"1.4%","x":1.9,"y":1.5},{"s":"1.4%","x":2.0,"y":1.36},{"s":"1.4%","x":2.08,"y":1.22},{"s":"1.4%","x":2.16,"y":1.11},{"s":"1.4%","x":2.3,"y":1.0},{"s":"1.4%","x":2.42,"y":0.92},
      {"s":"2.1%","x":0,"y":0},{"s":"2.1%","x":0.1,"y":0.02},{"s":"2.1%","x":0.2,"y":0.12},{"s":"2.1%","x":0.3,"y":0.28},{"s":"2.1%","x":0.4,"y":0.38},{"s":"2.1%","x":0.5,"y":0.52},{"s":"2.1%","x":0.6,"y":0.9},{"s":"2.1%","x":0.7,"y":1.28},{"s":"2.1%","x":0.8,"y":1.68},{"s":"2.1%","x":0.9,"y":2.05},{"s":"2.1%","x":1.0,"y":2.35},{"s":"2.1%","x":1.1,"y":2.58},{"s":"2.1%","x":1.2,"y":2.78},{"s":"2.1%","x":1.3,"y":2.92},{"s":"2.1%","x":1.36,"y":2.96},{"s":"2.1%","x":1.44,"y":2.9},{"s":"2.1%","x":1.5,"y":2.7},{"s":"2.1%","x":1.51,"y":2.44},{"s":"2.1%","x":1.53,"y":2.06},{"s":"2.1%","x":1.55,"y":1.72},{"s":"2.1%","x":1.63,"y":1.38},{"s":"2.1%","x":1.73,"y":0.86},{"s":"2.1%","x":1.78,"y":0.69},{"s":"2.1%","x":1.94,"y":0.56},{"s":"2.1%","x":2.05,"y":0.5},{"s":"2.1%","x":2.2,"y":0.47},
      {"s":"2.8%","x":0,"y":0},{"s":"2.8%","x":0.1,"y":0.02},{"s":"2.8%","x":0.2,"y":0.15},{"s":"2.8%","x":0.3,"y":0.33},{"s":"2.8%","x":0.4,"y":0.4},{"s":"2.8%","x":0.5,"y":0.6},{"s":"2.8%","x":0.6,"y":0.97},{"s":"2.8%","x":0.7,"y":1.4},{"s":"2.8%","x":0.8,"y":1.85},{"s":"2.8%","x":0.9,"y":2.3},{"s":"2.8%","x":1.0,"y":2.7},{"s":"2.8%","x":1.1,"y":3.0},{"s":"2.8%","x":1.2,"y":3.3},{"s":"2.8%","x":1.3,"y":3.55},{"s":"2.8%","x":1.41,"y":3.76},{"s":"2.8%","x":1.5,"y":3.84},{"s":"2.8%","x":1.58,"y":3.71},{"s":"2.8%","x":1.61,"y":3.54},{"s":"2.8%","x":1.64,"y":3.16},{"s":"2.8%","x":1.66,"y":2.78},{"s":"2.8%","x":1.67,"y":2.53},{"s":"2.8%","x":1.73,"y":2.23},{"s":"2.8%","x":1.8,"y":2.06},{"s":"2.8%","x":1.87,"y":1.83},{"s":"2.8%","x":2.0,"y":1.6},{"s":"2.8%","x":2.09,"y":1.49},{"s":"2.8%","x":2.12,"y":1.32},{"s":"2.8%","x":2.16,"y":1.19},{"s":"2.8%","x":2.3,"y":1.08},{"s":"2.8%","x":2.39,"y":1.0},
      {"s":"3.5%","x":0,"y":0},{"s":"3.5%","x":0.1,"y":0.01},{"s":"3.5%","x":0.2,"y":0.1},{"s":"3.5%","x":0.3,"y":0.25},{"s":"3.5%","x":0.4,"y":0.35},{"s":"3.5%","x":0.5,"y":0.5},{"s":"3.5%","x":0.6,"y":0.88},{"s":"3.5%","x":0.7,"y":1.3},{"s":"3.5%","x":0.8,"y":1.8},{"s":"3.5%","x":0.9,"y":2.4},{"s":"3.5%","x":1.0,"y":3.06},{"s":"3.5%","x":1.18,"y":3.99},{"s":"3.5%","x":1.33,"y":4.54},{"s":"3.5%","x":1.41,"y":4.58},{"s":"3.5%","x":1.5,"y":4.64},{"s":"3.5%","x":1.61,"y":4.5},{"s":"3.5%","x":1.7,"y":4.37},{"s":"3.5%","x":1.74,"y":4.09},{"s":"3.5%","x":1.76,"y":3.59},{"s":"3.5%","x":1.77,"y":2.99},{"s":"3.5%","x":1.78,"y":2.32},{"s":"3.5%","x":1.81,"y":1.64},{"s":"3.5%","x":1.83,"y":1.24},{"s":"3.5%","x":1.91,"y":1.02},{"s":"3.5%","x":2.01,"y":0.9},{"s":"3.5%","x":2.16,"y":0.75},{"s":"3.5%","x":2.36,"y":0.6}
    ],
    "F": [
      {"s":"0.7%","x":0,"y":0},{"s":"0.7%","x":0.1,"y":0.02},{"s":"0.7%","x":0.2,"y":0.08},{"s":"0.7%","x":0.3,"y":0.2},{"s":"0.7%","x":0.4,"y":0.3},{"s":"0.7%","x":0.5,"y":0.42},{"s":"0.7%","x":0.6,"y":0.7},{"s":"0.7%","x":0.7,"y":0.95},{"s":"0.7%","x":0.8,"y":1.2},{"s":"0.7%","x":0.9,"y":1.45},{"s":"0.7%","x":1.0,"y":1.68},{"s":"0.7%","x":1.1,"y":1.85},{"s":"0.7%","x":1.17,"y":1.94},{"s":"0.7%","x":1.26,"y":1.86},{"s":"0.7%","x":1.39,"y":1.81},{"s":"0.7%","x":1.46,"y":1.74},{"s":"0.7%","x":1.5,"y":1.64},{"s":"0.7%","x":1.52,"y":1.36},{"s":"0.7%","x":1.59,"y":1.23},{"s":"0.7%","x":1.69,"y":1.13},{"s":"0.7%","x":1.8,"y":0.92},{"s":"0.7%","x":1.9,"y":0.8},{"s":"0.7%","x":2.0,"y":0.74},{"s":"0.7%","x":2.1,"y":0.68},{"s":"0.7%","x":2.2,"y":0.62},{"s":"0.7%","x":2.37,"y":0.54},
      {"s":"1.4%","x":0,"y":0},{"s":"1.4%","x":0.1,"y":0.02},{"s":"1.4%","x":0.2,"y":0.08},{"s":"1.4%","x":0.3,"y":0.2},{"s":"1.4%","x":0.4,"y":0.32},{"s":"1.4%","x":0.5,"y":0.45},{"s":"1.4%","x":0.6,"y":0.72},{"s":"1.4%","x":0.7,"y":1.05},{"s":"1.4%","x":0.8,"y":1.4},{"s":"1.4%","x":0.9,"y":1.72},{"s":"1.4%","x":1.0,"y":1.98},{"s":"1.4%","x":1.1,"y":2.2},{"s":"1.4%","x":1.2,"y":2.38},{"s":"1.4%","x":1.3,"y":2.46},{"s":"1.4%","x":1.44,"y":2.5},{"s":"1.4%","x":1.52,"y":2.32},{"s":"1.4%","x":1.61,"y":2.12},{"s":"1.4%","x":1.64,"y":1.86},{"s":"1.4%","x":1.66,"y":1.66},{"s":"1.4%","x":1.75,"y":1.31},{"s":"1.4%","x":1.84,"y":1.08},{"s":"1.4%","x":1.9,"y":0.95},{"s":"1.4%","x":2.0,"y":0.8},{"s":"1.4%","x":2.1,"y":0.72},{"s":"1.4%","x":2.2,"y":0.65},{"s":"1.4%","x":2.3,"y":0.58},{"s":"1.4%","x":2.4,"y":0.55},
      {"s":"2.1%","x":0,"y":0},{"s":"2.1%","x":0.1,"y":0.03},{"s":"2.1%","x":0.2,"y":0.1},{"s":"2.1%","x":0.3,"y":0.25},{"s":"2.1%","x":0.4,"y":0.35},{"s":"2.1%","x":0.5,"y":0.55},{"s":"2.1%","x":0.6,"y":0.9},{"s":"2.1%","x":0.7,"y":1.28},{"s":"2.1%","x":0.8,"y":1.68},{"s":"2.1%","x":0.9,"y":2.05},{"s":"2.1%","x":1.0,"y":2.45},{"s":"2.1%","x":1.1,"y":2.75},{"s":"2.1%","x":1.2,"y":3.0},{"s":"2.1%","x":1.3,"y":3.22},{"s":"2.1%","x":1.46,"y":3.39},{"s":"2.1%","x":1.61,"y":3.29},{"s":"2.1%","x":1.73,"y":3.19},{"s":"2.1%","x":1.78,"y":2.75},{"s":"2.1%","x":1.8,"y":2.37},{"s":"2.1%","x":1.88,"y":2.12},{"s":"2.1%","x":1.91,"y":1.81},{"s":"2.1%","x":1.95,"y":1.51},{"s":"2.1%","x":1.99,"y":1.31},{"s":"2.1%","x":2.06,"y":1.13},{"s":"2.1%","x":2.15,"y":0.87},{"s":"2.1%","x":2.2,"y":0.67},{"s":"2.1%","x":2.3,"y":0.57},{"s":"2.1%","x":2.37,"y":0.49},
      {"s":"2.8%","x":0,"y":0},{"s":"2.8%","x":0.1,"y":0.02},{"s":"2.8%","x":0.2,"y":0.08},{"s":"2.8%","x":0.3,"y":0.22},{"s":"2.8%","x":0.4,"y":0.38},{"s":"2.8%","x":0.5,"y":0.5},{"s":"2.8%","x":0.6,"y":0.95},{"s":"2.8%","x":0.7,"y":1.4},{"s":"2.8%","x":0.8,"y":1.9},{"s":"2.8%","x":0.9,"y":2.5},{"s":"2.8%","x":1.0,"y":3.08},{"s":"2.8%","x":1.12,"y":3.59},{"s":"2.8%","x":1.26,"y":4.2},{"s":"2.8%","x":1.44,"y":4.43},{"s":"2.8%","x":1.55,"y":4.35},{"s":"2.8%","x":1.61,"y":4.0},{"s":"2.8%","x":1.62,"y":3.8},{"s":"2.8%","x":1.63,"y":3.39},{"s":"2.8%","x":1.65,"y":2.88},{"s":"2.8%","x":1.66,"y":2.47},{"s":"2.8%","x":1.68,"y":1.76},{"s":"2.8%","x":1.73,"y":1.46},{"s":"2.8%","x":1.81,"y":1.1},{"s":"2.8%","x":1.93,"y":0.9},{"s":"2.8%","x":2.1,"y":0.8},{"s":"2.8%","x":2.27,"y":0.67},
      {"s":"3.5%","x":0,"y":0},{"s":"3.5%","x":0.1,"y":0.02},{"s":"3.5%","x":0.2,"y":0.08},{"s":"3.5%","x":0.3,"y":0.2},{"s":"3.5%","x":0.4,"y":0.35},{"s":"3.5%","x":0.5,"y":0.5},{"s":"3.5%","x":0.6,"y":0.9},{"s":"3.5%","x":0.7,"y":1.35},{"s":"3.5%","x":0.8,"y":1.85},{"s":"3.5%","x":0.9,"y":2.5},{"s":"3.5%","x":1.0,"y":3.15},{"s":"3.5%","x":1.12,"y":4.05},{"s":"3.5%","x":1.27,"y":4.66},{"s":"3.5%","x":1.39,"y":5.17},{"s":"3.5%","x":1.5,"y":5.4},{"s":"3.5%","x":1.61,"y":5.51},{"s":"3.5%","x":1.7,"y":5.45},{"s":"3.5%","x":1.72,"y":5.27},{"s":"3.5%","x":1.75,"y":4.91},{"s":"3.5%","x":1.81,"y":4.71},{"s":"3.5%","x":1.89,"y":4.58},{"s":"3.5%","x":1.9,"y":4.35},{"s":"3.5%","x":1.91,"y":3.49},{"s":"3.5%","x":1.94,"y":2.32},{"s":"3.5%","x":2.0,"y":1.81},{"s":"3.5%","x":2.06,"y":1.66},{"s":"3.5%","x":2.17,"y":1.43},{"s":"3.5%","x":2.24,"y":1.28},{"s":"3.5%","x":2.3,"y":1.15},{"s":"3.5%","x":2.4,"y":1.05}
    ]
  },
  "columns": 2,
  "spacing": {"row": 312, "column": 320},
  "bounds": "flush",
  "resolve": {
    "scale": {"color": "independent", "fill": "independent"},
    "legend": {"color": "independent", "fill": "independent"}
  },
  "concat": [
    {
      "width": 1603, "height": 928,
      "encoding": {
        "x": {"field": "x", "type": "quantitative", "scale": {"domain": [0, 3], "nice": false}, "axis": {"values": [0, 0.5, 1, 1.5, 2, 2.5, 3], "format": ".1f", "title": "Axial strain ε (%)"}},
        "y": {"field": "y", "type": "quantitative", "scale": {"domain": [0, 5], "nice": false}, "axis": {"values": [0, 1, 2, 3, 4, 5], "format": "d", "title": "Axial stress σ(MPa)"}},
        "color": {"field": "s", "type": "nominal",
          "scale": {"domain": ["0 %", "0.7%", "1.4%", "2.1%", "2.8%", "3.5%"], "range": ["#6cb4d8", "#1f5c85", "#184668", "#12294a", "#f23b3b", "#c7142d"]},
          "legend": {"title": null, "orient": "none", "legendX": 1360, "legendY": 34, "labelFontSize": 46, "symbolType": "M-1.5,0H1.5", "symbolSize": 4900, "symbolOffset": 15, "labelOffset": 41, "padding": 10, "fillColor": "white", "strokeColor": "#8a8a8a", "zindex": 2}}
      },
      "layer": [
        {"data": {"name": "A"}, "mark": {"type": "line", "strokeWidth": 4, "point": {"filled": true, "size": 60}}},
        {"data": {"name": "A"}, "mark": {"type": "point", "opacity": 0},
          "encoding": {"fill": {"field": "s", "type": "nominal",
            "scale": {"domain": ["3.5%", "2.8%", "2.1%", "1.4%", "0.7%", "0 %"], "range": ["black", "black", "black", "black", "black", "black"]},
            "legend": {"title": null, "orient": "none", "legendX": 1374, "legendY": 49, "labelFontSize": 46, "labelExpr": "''", "symbolType": "M-1.5,0H1.5", "symbolSize": 4900, "symbolOffset": 15, "labelOffset": 135, "padding": 10, "fillColor": "black", "strokeColor": "black", "symbolOpacity": 0, "zindex": 1}}}},
        {"data": {"values": [{"t": "Nano-SiO₂", "x": 2.27, "y": 4.47}, {"t": "(a)", "x": -0.035, "y": -0.7}]},
          "mark": {"type": "text", "font": "Liberation Serif", "fontSize": 50, "fontWeight": "bold", "baseline": "middle"},
          "encoding": {"text": {"field": "t"}, "color": {"value": "black"}}}
      ]
    },
    {
      "width": 1603, "height": 928,
      "encoding": {
        "x": {"field": "x", "type": "quantitative", "scale": {"domain": [0, 3], "nice": false}, "axis": {"values": [0, 0.5, 1, 1.5, 2, 2.5, 3], "format": ".1f", "title": "Axial strain ε (%)", "labelFontWeight": "bold"}},
        "y": {"field": "y", "type": "quantitative", "scale": {"domain": [0, 2], "nice": false}, "axis": {"values": [0, 0.4, 0.8, 1.2, 1.6, 2.0], "format": ".1f", "title": "Axial stress σ (MPa)", "labelFontWeight": "bold"}},
        "color": {"field": "s", "type": "nominal",
          "scale": {"domain": ["0 %", "10%", "20%", "30%", "40%"], "range": ["#6cb4d8", "#1f5c85", "#184668", "#12294a", "#f23b3b"]},
          "legend": {"title": null, "orient": "none", "legendX": 1377, "legendY": 25, "labelFontSize": 37, "labelFontWeight": "bold", "symbolType": "M-1.2,0H1.2", "symbolSize": 3480, "symbolOffset": 4, "labelOffset": 16, "padding": 8, "fillColor": "white", "strokeColor": "#8a8a8a", "zindex": 2}}
      },
      "layer": [
        {"data": {"name": "ctrl"}, "mark": {"type": "line", "strokeWidth": 4, "point": {"filled": true, "size": 60}}},
        {"data": {"name": "B"}, "mark": {"type": "line", "strokeWidth": 4, "point": {"filled": true, "size": 60}}},
        {"data": {"name": "B"}, "mark": {"type": "point", "opacity": 0},
          "encoding": {"fill": {"field": "s", "type": "nominal",
            "scale": {"domain": ["40%", "30%", "20%", "10%", "0 %"], "range": ["black", "black", "black", "black", "black"]},
            "legend": {"title": null, "orient": "none", "legendX": 1390, "legendY": 38, "labelFontSize": 37, "labelFontWeight": "bold", "labelExpr": "''", "symbolType": "M-1.2,0H1.2", "symbolSize": 3480, "symbolOffset": 4, "labelOffset": 90, "padding": 8, "fillColor": "black", "strokeColor": "black", "symbolOpacity": 0, "zindex": 1}}}},
        {"data": {"values": [{"t": "Sand", "x": 2.37, "y": 1.83}, {"t": "(b)", "x": -0.043, "y": -0.28}]},
          "mark": {"type": "text", "font": "Liberation Serif", "fontSize": 50, "fontWeight": "bold", "baseline": "middle"},
          "encoding": {"text": {"field": "t"}, "color": {"value": "black"}}}
      ]
    },
    {
      "width": 1603, "height": 928,
      "encoding": {
        "x": {"field": "x", "type": "quantitative", "scale": {"domain": [0, 3], "nice": false}, "axis": {"values": [0, 0.5, 1, 1.5, 2, 2.5, 3], "format": ".1f", "title": "Axial strain ε (%)", "labelFontWeight": "bold"}},
        "y": {"field": "y", "type": "quantitative", "scale": {"domain": [0, 5], "nice": false}, "axis": {"values": [0, 1, 2, 3, 4, 5], "format": "d", "title": "Axial stress σ (MPa)", "labelFontWeight": "bold"}},
        "color": {"field": "s", "type": "nominal",
          "scale": {"domain": ["0 %", "0.7%", "1.4%", "2.1%", "2.8%", "3.5%"], "range": ["#6cb4d8", "#1f5c85", "#184668", "#12294a", "#f23b3b", "#c7142d"]},
          "legend": {"title": null, "orient": "none", "legendX": 1379, "legendY": 25, "labelFontSize": 37, "labelFontWeight": "bold", "symbolType": "M-1.5,0H1.5", "symbolSize": 3250, "symbolOffset": 12, "labelOffset": 33, "padding": 8, "fillColor": "white", "strokeColor": "#8a8a8a", "zindex": 2}}
      },
      "layer": [
        {"data": {"name": "ctrl"}, "mark": {"type": "line", "strokeWidth": 4, "point": {"filled": true, "size": 60}}},
        {"data": {"name": "C"}, "mark": {"type": "line", "strokeWidth": 4, "point": {"filled": true, "size": 60}}},
        {"data": {"name": "C"}, "mark": {"type": "point", "opacity": 0},
          "encoding": {"fill": {"field": "s", "type": "nominal",
            "scale": {"domain": ["3.5%", "2.8%", "2.1%", "1.4%", "0.7%", "0 %"], "range": ["black", "black", "black", "black", "black", "black"]},
            "legend": {"title": null, "orient": "none", "legendX": 1392, "legendY": 38, "labelFontSize": 37, "labelFontWeight": "bold", "labelExpr": "''", "symbolType": "M-1.5,0H1.5", "symbolSize": 3250, "symbolOffset": 12, "labelOffset": 113, "padding": 8, "fillColor": "black", "strokeColor": "black", "symbolOpacity": 0, "zindex": 1}}}},
        {"data": {"values": [{"t": "10%Sand", "x": 0.305, "y": 4.57}, {"t": "Nano-SiO₂", "x": 2.24, "y": 4.54}, {"t": "(c)", "x": -0.035, "y": -0.72}]},
          "mark": {"type": "text", "font": "Liberation Serif", "fontSize": 50, "fontWeight": "bold", "baseline": "middle"},
          "encoding": {"text": {"field": "t"}, "color": {"value": "black"}}}
      ]
    },
    {
      "width": 1603, "height": 928,
      "encoding": {
        "x": {"field": "x", "type": "quantitative", "scale": {"domain": [0, 3], "nice": false}, "axis": {"values": [0, 0.5, 1, 1.5, 2, 2.5, 3], "format": ".1f", "title": "Axial strain ε (%)", "labelFontWeight": "bold"}},
        "y": {"field": "y", "type": "quantitative", "scale": {"domain": [0, 5], "nice": false}, "axis": {"values": [0, 1, 2, 3, 4, 5], "format": "d", "title": "Axial stress σ (MPa)", "labelFontWeight": "bold"}},
        "color": {"field": "s", "type": "nominal",
          "scale": {"domain": ["0 %", "0.7%", "1.4%", "2.1%", "2.8%", "3.5%"], "range": ["#6cb4d8", "#1f5c85", "#184668", "#12294a", "#f23b3b", "#c7142d"]},
          "legend": {"title": null, "orient": "none", "legendX": 1377, "legendY": 26, "labelFontSize": 37, "labelFontWeight": "bold", "symbolType": "M-1.5,0H1.5", "symbolSize": 3250, "symbolOffset": 12, "labelOffset": 33, "padding": 8, "fillColor": "white", "strokeColor": "#8a8a8a", "zindex": 2}}
      },
      "layer": [
        {"data": {"name": "ctrl"}, "mark": {"type": "line", "strokeWidth": 4, "point": {"filled": true, "size": 60}}},
        {"data": {"name": "D"}, "mark": {"type": "line", "strokeWidth": 4, "point": {"filled": true, "size": 60}}},
        {"data": {"name": "D"}, "mark": {"type": "point", "opacity": 0},
          "encoding": {"fill": {"field": "s", "type": "nominal",
            "scale": {"domain": ["3.5%", "2.8%", "2.1%", "1.4%", "0.7%", "0 %"], "range": ["black", "black", "black", "black", "black", "black"]},
            "legend": {"title": null, "orient": "none", "legendX": 1390, "legendY": 39, "labelFontSize": 37, "labelFontWeight": "bold", "labelExpr": "''", "symbolType": "M-1.5,0H1.5", "symbolSize": 3250, "symbolOffset": 12, "labelOffset": 113, "padding": 8, "fillColor": "black", "strokeColor": "black", "symbolOpacity": 0, "zindex": 1}}}},
        {"data": {"values": [{"t": "20%Sand", "x": 0.28, "y": 4.59}, {"t": "Nano-SiO₂", "x": 2.24, "y": 4.57}, {"t": "(d)", "x": -0.043, "y": -0.72}]},
          "mark": {"type": "text", "font": "Liberation Serif", "fontSize": 50, "fontWeight": "bold", "baseline": "middle"},
          "encoding": {"text": {"field": "t"}, "color": {"value": "black"}}}
      ]
    },
    {
      "width": 1603, "height": 928,
      "encoding": {
        "x": {"field": "x", "type": "quantitative", "scale": {"domain": [0, 3], "nice": false}, "axis": {"values": [0, 0.5, 1, 1.5, 2, 2.5, 3], "format": ".1f", "title": "Axial strain ε (%)", "labelFontWeight": "bold"}},
        "y": {"field": "y", "type": "quantitative", "scale": {"domain": [0, 5], "nice": false}, "axis": {"values": [0, 1, 2, 3, 4, 5], "format": "d", "title": "Axial stress σ (MPa)", "labelFontWeight": "bold"}},
        "color": {"field": "s", "type": "nominal",
          "scale": {"domain": ["0 %", "0.7%", "1.4%", "2.1%", "2.8%", "3.5%"], "range": ["#6cb4d8", "#1f5c85", "#184668", "#12294a", "#f23b3b", "#c7142d"]},
          "legend": {"title": null, "orient": "none", "legendX": 1384, "legendY": 30, "labelFontSize": 37, "labelFontWeight": "bold", "symbolType": "M-1.5,0H1.5", "symbolSize": 3250, "symbolOffset": 12, "labelOffset": 33, "padding": 8, "fillColor": "white", "strokeColor": "#8a8a8a", "zindex": 2}}
      },
      "layer": [
        {"data": {"name": "ctrl"}, "mark": {"type": "line", "strokeWidth": 4, "point": {"filled": true, "size": 60}}},
        {"data": {"name": "E"}, "mark": {"type": "line", "strokeWidth": 4, "point": {"filled": true, "size": 60}}},
        {"data": {"name": "E"}, "mark": {"type": "point", "opacity": 0},
          "encoding": {"fill": {"field": "s", "type": "nominal",
            "scale": {"domain": ["3.5%", "2.8%", "2.1%", "1.4%", "0.7%", "0 %"], "range": ["black", "black", "black", "black", "black", "black"]},
            "legend": {"title": null, "orient": "none", "legendX": 1397, "legendY": 43, "labelFontSize": 37, "labelFontWeight": "bold", "labelExpr": "''", "symbolType": "M-1.5,0H1.5", "symbolSize": 3250, "symbolOffset": 12, "labelOffset": 113, "padding": 8, "fillColor": "black", "strokeColor": "black", "symbolOpacity": 0, "zindex": 1}}}},
        {"data": {"values": [{"t": "30%Sand", "x": 0.29, "y": 4.56}, {"t": "Nano-SiO₂", "x": 2.26, "y": 4.55}, {"t": "(e)", "x": -0.035, "y": -0.73}]},
          "mark": {"type": "text", "font": "Liberation Serif", "fontSize": 50, "fontWeight": "bold", "baseline": "middle"},
          "encoding": {"text": {"field": "t"}, "color": {"value": "black"}}}
      ]
    },
    {
      "width": 1603, "height": 928,
      "encoding": {
        "x": {"field": "x", "type": "quantitative", "scale": {"domain": [0, 3], "nice": false}, "axis": {"values": [0, 0.5, 1, 1.5, 2, 2.5, 3], "format": ".1f", "title": "Axial strain ε (%)"}},
        "y": {"field": "y", "type": "quantitative", "scale": {"domain": [0, 6], "nice": false}, "axis": {"values": [0, 1, 2, 3, 4, 5, 6], "format": "d", "title": "Axial stress σ (MPa)"}},
        "color": {"field": "s", "type": "nominal",
          "scale": {"domain": ["0 %", "0.7%", "1.4%", "2.1%", "2.8%", "3.5%"], "range": ["#6cb4d8", "#1f5c85", "#184668", "#12294a", "#f23b3b", "#c7142d"]},
          "legend": {"title": null, "orient": "none", "legendX": 1377, "legendY": 30, "labelFontSize": 40, "symbolType": "M-1.3,0H1.3", "symbolSize": 3136, "symbolOffset": 7, "labelOffset": 21, "padding": 8, "fillColor": "white", "strokeColor": "#8a8a8a", "zindex": 2}}
      },
      "layer": [
        {"data": {"name": "ctrl"}, "mark": {"type": "line", "strokeWidth": 4, "point": {"filled": true, "size": 60}}},
        {"data": {"name": "F"}, "mark": {"type": "line", "strokeWidth": 4, "point": {"filled": true, "size": 60}}},
        {"data": {"name": "F"}, "mark": {"type": "point", "opacity": 0},
          "encoding": {"fill": {"field": "s", "type": "nominal",
            "scale": {"domain": ["3.5%", "2.8%", "2.1%", "1.4%", "0.7%", "0 %"], "range": ["black", "black", "black", "black", "black", "black"]},
            "legend": {"title": null, "orient": "none", "legendX": 1390, "legendY": 43, "labelFontSize": 40, "labelExpr": "''", "symbolType": "M-1.3,0H1.3", "symbolSize": 3136, "symbolOffset": 7, "labelOffset": 104, "padding": 8, "fillColor": "black", "strokeColor": "black", "symbolOpacity": 0, "zindex": 1}}}},
        {"data": {"values": [{"t": "40%Sand", "x": 0.26, "y": 5.56}, {"t": "Nano-SiO₂", "x": 2.27, "y": 5.46}, {"t": "(f)", "x": -0.043, "y": -0.87}]},
          "mark": {"type": "text", "font": "Liberation Serif", "fontSize": 50, "fontWeight": "bold", "baseline": "middle"},
          "encoding": {"text": {"field": "t"}, "color": {"value": "black"}}}
      ]
    }
  ]
}
